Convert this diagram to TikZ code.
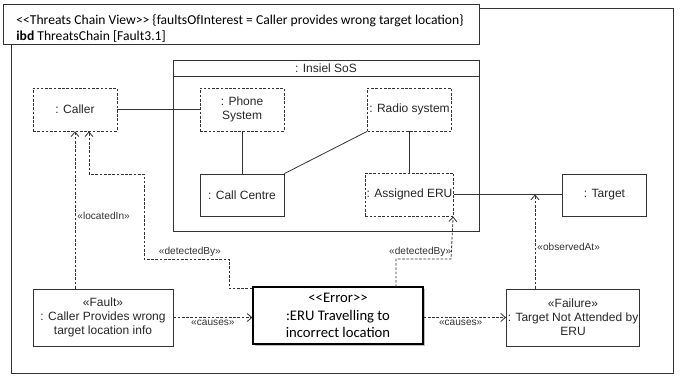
\documentclass[tikz,border=0pt]{standalone}
\usepackage{fontspec}
\setmainfont{Liberation Sans}
\newfontfamily\calfont{Carlito}
\usetikzlibrary{arrows.meta,shadows}

\begin{document}
\begin{tikzpicture}[x=0.75pt,y=-0.75pt,line width=0.6pt,>={Straight Barb[length=3.5pt,width=6pt]},
			part/.style={draw=black!80,dash pattern=on 2pt off 1.2pt,minimum width=63pt,minimum height=32.25pt,inner sep=1pt,align=center,text=black!85,font=\fontsize{9}{10.5}\selectfont},
			block/.style={draw=black!80,solid,minimum width=63pt,minimum height=31.5pt,inner sep=1pt,align=center,text=black!85,font=\fontsize{9}{10.5}\selectfont},
			link/.style={draw=black!80},
			dep/.style={->,draw=black!80,dash pattern=on 2pt off 1.2pt},
			lbl/.style={font=\fontsize{7.6}{9}\selectfont,text=black!80,inner sep=1.5pt}]
			\useasboundingbox (0,0) rectangle (680,375);
			% frame and header
			\draw[black!80] (11,8) rectangle (673,373);
			\node[draw=black!80,fill=white,minimum width=357pt,minimum height=30pt,anchor=north west] (hdr) at (3,4) {};
			\node[anchor=west,align=left,inner sep=0pt,font=\calfont\fontsize{10.2}{12}\selectfont] (htxt) at (16,29) {<<Threats Chain View>> \{faultsOfInterest = Caller provides wrong target location\}\\\textbf{ibd} ThreatsChain [Fault3.1]};
			% system of systems
			\node[draw=black!80,minimum width=229.5pt,minimum height=128.25pt] (sos) at (326,145.5) {};
			\draw[black!80] (sos.north west) ++(0,17) -- ++(306,0);
			\node[text=black!85,font=\fontsize{9}{10.5}\selectfont] (sosname) at (326,68.5) {: Insiel SoS};
			% parts
			\node[part] (caller) at (75,109.5) {: Caller};
			\node[part] (phone) at (242,109.5) {: Phone\\System};
			\node[part] (radio) at (409.5,109.5) {: Radio system};
			\node[block] (cc) at (242,195) {: Call Centre};
			\node[part] (eru) at (409.5,194.5) {: Assigned ERU};
			\node[block] (target) at (604.5,195) {: Target};
			% threats
			\node[block,minimum width=105pt,minimum height=42.75pt] (fault) at (103,317.5) {«Fault»\\: Caller Provides wrong\\target location info};
			\node[block,draw=black,line width=0.9pt,fill=white,minimum width=127.5pt,minimum height=42.75pt,text=black,font=\calfont\fontsize{11}{13}\selectfont,
				drop shadow={shadow xshift=1.2pt,shadow yshift=-1.2pt,opacity=0.5}] (err) at (338,315.5) {<<Error>>\\:ERU Travelling to\\incorrect location};
			\node[block,minimum width=99pt,minimum height=42.75pt] (fail) at (573,317.5) {«Failure»\\: Target Not Attended by\\ERU};
			% connectors
			\path[link] (caller) edge (phone)
				(phone) edge (cc)
				(cc.north east) edge (radio.south west)
				(radio) edge (eru)
				(eru.east) edge (eru.east -| target.west);
			\coordinate (obs) at (535,194.5);
			\draw[dep] (caller.south |- fault.north) -- node[lbl,right,pos=0.46] {«locatedIn»} (caller.south);
			\draw[dep] ([yshift=-1.5pt]err.north west) -| (229,259) -| node[lbl,above,pos=0.23] {«detectedBy»} (144,174) -| ([xshift=10.5pt]caller.south);
			\draw[dep] (396,287) |- node[lbl,above,pos=0.72] {«detectedBy»} (451,259) -- ([xshift=-0.75pt]eru.south east);
			\draw[dep] (fail.north -| obs) -- node[lbl,right,pos=0.44] {«observedAt»} (obs);
			\draw[dep] (fault.east) -- node[lbl,below] {«causes»} (fault.east -| err.west);
			\draw[dep] (err.east |- fail.west) -- node[lbl,below,pos=0.45] {«causes»} (fail.west);
		\end{tikzpicture}
\end{document}
